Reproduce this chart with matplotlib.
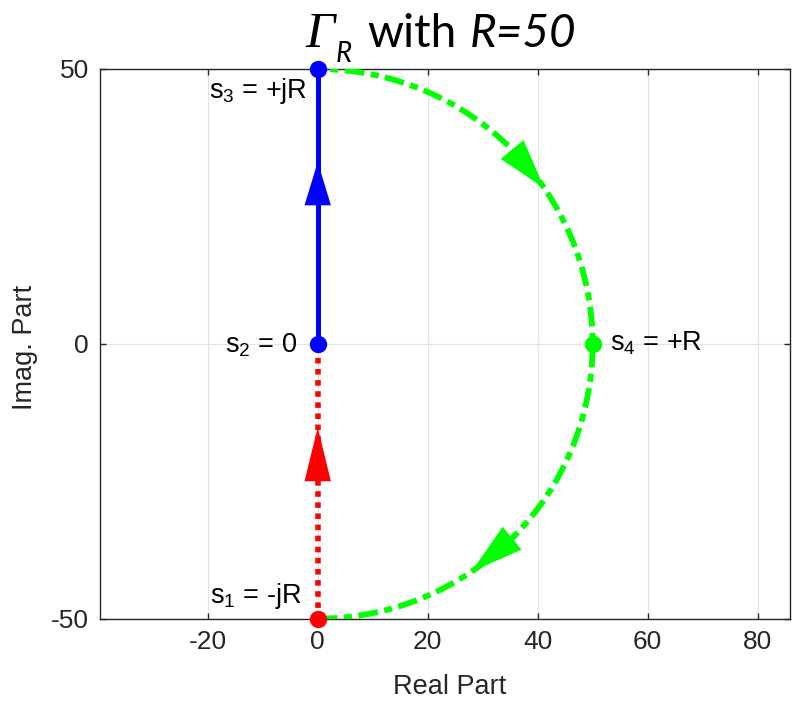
import numpy as np
import matplotlib.pyplot as plt
from matplotlib.patches import Arc

# contour data
R = 50
point_x = [0, 0, 0, 50]
point_y = [-50, 0, 50, 0]
point_colors = ["#ff0000", "#0000ff", "#0000ff", "#00ff00"]
point_labels = ["s$_{1}$ = -jR", "s$_{2}$ = 0", "s$_{3}$ = +jR", "s$_{4}$ = +R"]

# arrow heads on the straight parts (y tail, y tip) and on the arc (angles, deg)
vert_arrow_tail = [-25.0, 25.2]
vert_arrow_tip = [-15.2, 33.1]
vert_arrow_colors = ["#ff0000", "#0000ff"]
arc_arrow_tail_deg = [45, -45]
arc_arrow_tip_deg = [34.5, -56]

x_ticks = [-20, 0, 20, 40, 60, 80]
y_ticks = [-50, 0, 50]

plt.rcParams["font.family"] = ["Liberation Sans", "DejaVu Sans"]
plt.rcParams["mathtext.fontset"] = "custom"
plt.rcParams["mathtext.rm"] = "Liberation Sans"
plt.rcParams["mathtext.it"] = "Liberation Sans:italic"
plt.rcParams["axes.unicode_minus"] = False

fig = plt.figure(figsize=(7.92, 7.01), dpi=100)
ax = fig.add_axes([100 / 792, 1 - 618.7 / 701, 690 / 792, 549.7 / 701])
ax.set_xlim(-39.6, 85.9)
ax.set_ylim(-50, 50)

# straight parts
ax.plot([point_x[0], point_x[1]], [point_y[0], point_y[1]], color="#ff0000",
        lw=4, linestyle=(0, (1, 1)), zorder=3)
ax.plot([point_x[1], point_x[2]], [point_y[1], point_y[2]], color="#0000ff",
        lw=3.6, zorder=3)

# semicircle from +jR through +R to -jR
ax.add_patch(Arc((0, 0), 2 * R, 2 * R, theta1=-90, theta2=90, color="#00ff00",
                 lw=4.2, linestyle=(0, (3.4, 1.1, 1.4, 1.1)), zorder=3))

for y0, y1, c in zip(vert_arrow_tail, vert_arrow_tip, vert_arrow_colors):
    ax.arrow(0, y0, 0, y1 - y0, width=0, head_width=4.8, head_length=y1 - y0,
             length_includes_head=True, color=c, lw=0, zorder=4)

for a0, a1 in zip(arc_arrow_tail_deg, arc_arrow_tip_deg):
    x0, y0 = R * np.cos(np.radians(a0)), R * np.sin(np.radians(a0))
    x1, y1 = R * np.cos(np.radians(a1)), R * np.sin(np.radians(a1))
    L = np.hypot(x1 - x0, y1 - y0)
    ax.arrow(x0, y0, x1 - x0, y1 - y0, width=0, head_width=5.4, head_length=L,
             length_includes_head=True, color="#00ff00", lw=0, zorder=4)

for x, y, c in zip(point_x, point_y, point_colors):
    ax.plot(x, y, "o", color=c, ms=11.5, zorder=5, clip_on=False)

# label offsets in pixels (dx, dy of baseline) and alignment
offsets = [(-16, 16, "right"), (-21, -9, "right"), (-10, -29, "right"), (17, -7, "left")]
for x, y, lab, (dx, dy, ha) in zip(point_x, point_y, point_labels, offsets):
    ax.annotate(lab, (x, y), xytext=(dx, dy), textcoords="offset pixels",
                ha=ha, va="baseline", fontsize=19.5, color="black", zorder=6)

ax.set_xticks(x_ticks)
ax.set_yticks(y_ticks)
ax.grid(True, color="#e3e3e3", lw=0.9, zorder=0)
ax.set_axisbelow(True)
ax.tick_params(direction="in", length=4.5, width=1, top=True, right=True,
               labelsize=19, labelcolor="#262626", color="#262626", pad=8)
for s in ax.spines.values():
    s.set_color("#262626")
    s.set_linewidth(1)

fig.text(450 / 792, 1 - 694 / 701, "Real Part", ha="center", va="baseline",
         fontsize=19.5, color="#262626")
fig.text(25 / 792, 1 - 347 / 701, "Imag. Part", ha="center", va="center",
         rotation=90, fontsize=19.5, color="#262626")

# title pieces: Gamma_R with R=50
fig.text(305 / 792, 1 - 46.7 / 701, "\u0393", family="Liberation Serif",
         style="italic", fontsize=37, ha="left", va="baseline")
fig.text(336 / 792, 1 - 61.7 / 701, "R", family="Lato", style="italic",
         fontsize=20, ha="left", va="baseline")
fig.text(367 / 792, 1 - 46.7 / 701, "with", family="Lato", fontsize=33,
         ha="left", va="baseline")
fig.text(470 / 792, 1 - 46.7 / 701, "R=50", family="Lato", style="italic",
         fontsize=33, ha="left", va="baseline")

fig.savefig("out.png", dpi=100)
